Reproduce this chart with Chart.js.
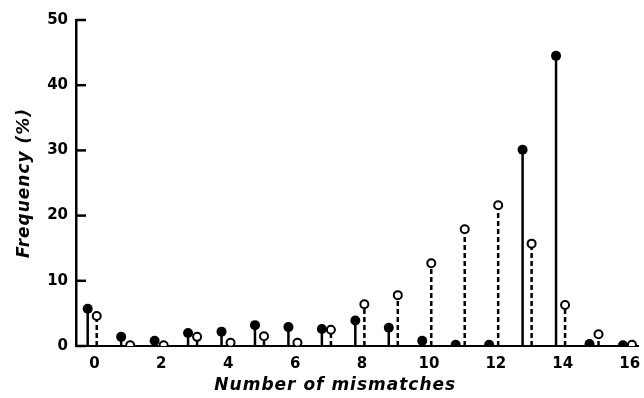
<!DOCTYPE html>
<html>
<head>
<meta charset="utf-8">
<script src="https://cdn.jsdelivr.net/npm/chart.js@4/dist/chart.umd.min.js"></script>
<style>
  html, body { margin: 0; padding: 0; background: #fff; }
</style>
</head>
<body>
<canvas id="myChart" width="644" height="398"></canvas>
<script>
const mismatches = [0, 1, 2, 3, 4, 5, 6, 7, 8, 9, 10, 11, 12, 13, 14, 15, 16];
const filledFreq = [5.7, 1.4, 0.8, 2.0, 2.2, 3.2, 2.9, 2.6, 3.9, 2.8, 0.8, 0.2, 0.2, 30.1, 44.5, 0.3, 0.1];
const openFreq = [4.6, 0.1, 0.1, 1.4, 0.5, 1.5, 0.5, 2.5, 6.4, 7.8, 12.7, 17.9, 21.6, 15.7, 6.3, 1.8, 0.2];
const xTickLabels = [0, 2, 4, 6, 8, 10, 12, 14, 16];
const yTickLabels = [0, 10, 20, 30, 40, 50];
const xTitle = 'Number of mismatches';
const yTitle = 'Frequency (%)';

// filled markers sit a little left of each count, open ones a little right
const filledShift = -0.2;
const openShift = 0.07;

function points(values, shift) {
  return values.map((v, i) => ({ x: mismatches[i] + shift, y: v }));
}

// each stem is a pair of points, broken from the next by a gap
function stems(values, shift) {
  const pts = [];
  values.forEach((v, i) => {
    const x = mismatches[i] + shift;
    pts.push({ x: x, y: 0 }, { x: x, y: v }, { x: x, y: null });
  });
  return pts;
}

const tickFont = { family: 'DejaVu Sans', size: 15, weight: 'bold' };

// short tick marks on the inside of the y axis, plus the two axis titles
const axisExtras = {
  id: 'axisExtras',
  afterDatasetsDraw(chart) {
    const ctx = chart.ctx;
    const x = chart.scales.x;
    const y = chart.scales.y;
    const left = chart.chartArea.left;
    ctx.save();
    ctx.strokeStyle = '#000';
    ctx.lineWidth = 2.5;
    yTickLabels.forEach(v => {
      const py = y.getPixelForValue(v);
      ctx.beginPath();
      ctx.moveTo(left, py);
      ctx.lineTo(left + 10, py);
      ctx.stroke();
    });

    ctx.fillStyle = '#000';
    ctx.font = 'italic bold 17px "DejaVu Sans"';
    ctx.letterSpacing = '1px';
    ctx.textAlign = 'center';
    ctx.textBaseline = 'middle';
    ctx.fillText(xTitle, x.getPixelForValue(7.2), 386);

    ctx.translate(25, y.getPixelForValue(25));
    ctx.rotate(-Math.PI / 2);
    ctx.fillText(yTitle, 0, 0);
    ctx.restore();
  }
};

const data = {
  datasets: [
    {
      type: 'scatter',
      data: points(openFreq, openShift),
      pointRadius: 4,
      pointBorderWidth: 2,
      pointBackgroundColor: '#fff',
      pointBorderColor: '#000',
      order: 1
    },
    {
      type: 'scatter',
      data: points(filledFreq, filledShift),
      pointRadius: 5,
      pointBorderWidth: 0,
      pointBackgroundColor: '#000',
      pointBorderColor: '#000',
      order: 2
    },
    {
      type: 'line',
      data: stems(openFreq, openShift),
      borderColor: '#000',
      borderWidth: 2.5,
      borderDash: [5, 3],
      pointRadius: 0,
      spanGaps: false,
      order: 3
    },
    {
      type: 'line',
      data: stems(filledFreq, filledShift),
      borderColor: '#000',
      borderWidth: 2.5,
      pointRadius: 0,
      spanGaps: false,
      order: 4
    }
  ]
};

const config = {
  type: 'scatter',
  data,
  options: {
    responsive: false,
    animation: false,
    events: [],
    layout: { padding: { top: 20, right: 3, left: 0, bottom: 0 } },
    plugins: { legend: { display: false }, tooltip: { enabled: false } },
    scales: {
      x: {
        type: 'linear',
        min: -0.55,
        max: 16.25,
        afterFit(scale) {
          scale.height = 52;
          scale.paddingLeft = 0;
          scale.paddingRight = 0;
        },
        afterBuildTicks(scale) { scale.ticks = xTickLabels.map(v => ({ value: v })); },
        grid: { drawOnChartArea: false, drawTicks: false },
        border: { display: true, color: '#000', width: 2 },
        ticks: { color: '#000', font: tickFont, padding: 9, autoSkip: false, maxRotation: 0 }
      },
      y: {
        min: 0,
        max: 50,
        afterFit(scale) {
          scale.width = 76;
          scale.paddingTop = 0;
          scale.paddingBottom = 0;
        },
        afterBuildTicks(scale) { scale.ticks = yTickLabels.map(v => ({ value: v })); },
        grid: { drawOnChartArea: false, drawTicks: false },
        border: { display: true, color: '#000', width: 2.5 },
        ticks: { color: '#000', font: tickFont, padding: 8 }
      }
    }
  },
  plugins: [axisExtras]
};

const myChart = new Chart(document.getElementById('myChart'), config);
</script>
</body>
</html>
